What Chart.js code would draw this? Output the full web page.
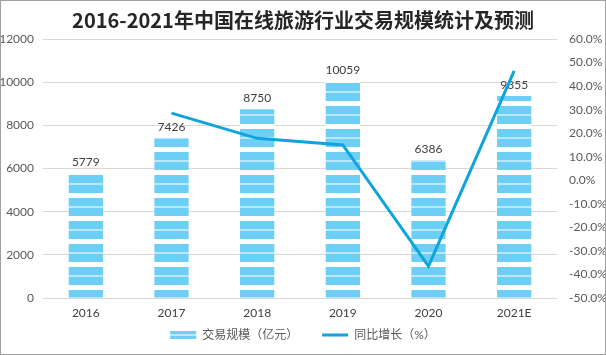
<!DOCTYPE html>
<html><head><meta charset="utf-8">
<script src="https://cdn.jsdelivr.net/npm/chart.js@4.4.0/dist/chart.umd.min.js"></script>
<style>
html,body{margin:0;padding:0;background:#fff;}
#wrap{position:relative;width:606px;height:355px;box-sizing:border-box;border:1px solid #a0a0a0;background:#fff;}
</style></head><body>
<div id="wrap"><canvas id="c"></canvas></div>
<script>
const categories = ['2016', '2017', '2018', '2019', '2020', '2021E'];
const scaleValues = [5779, 7426, 8750, 10059, 6386, 9355];
const growthValues = [null, 28.5, 17.8, 15.0, -36.5, 46.5];
const leftAxis = { min: 0, max: 12000, step: 2000 };
const rightAxis = { min: -50, max: 60, step: 10 };
const seriesNames = ['交易规模（亿元）', '同比增长（%）'];
const titleText = '2016-2021年中国在线旅游行业交易规模统计及预测';

const BLUE = '#6DCFF6', LIGHT = '#B9E8FB', LINE = '#0EA5DC';
const FONT = 'Lato, "Noto Sans CJK SC", sans-serif';

function makeTile(rows) {
  const h = rows.reduce((s, r) => s + r[1], 0);
  const c = document.createElement('canvas'); c.width = 8; c.height = h;
  const x = c.getContext('2d'); let y = 0;
  for (const [col, hh] of rows) { x.fillStyle = col; x.fillRect(0, y, 8, hh); y += hh; }
  return c;
}
const canvas = document.getElementById('c');
const ctx = canvas.getContext('2d');
const barPattern = ctx.createPattern(makeTile([[LIGHT, 2], [BLUE, 8], ['#ffffff', 5], [BLUE, 8]]), 'repeat');
const legendPattern = ctx.createPattern(makeTile([[BLUE, 3], [LIGHT, 2], [BLUE, 3]]), 'repeat');

const LEGEND_PAD = 24, LEGEND_H = 25.6, LEGEND_TEXT_Y = 334;

const helperPlugin = {
  id: 'helper',
  beforeLayout(chart) {
    const lg = chart.legend;
    if (lg && !lg._wrappedFit) {
      const orig = lg.fit.bind(lg);
      lg.fit = function () { orig(); this.height = LEGEND_H; };
      lg._wrappedFit = true;
    }
  },
  afterLayout(chart) {
    const lg = chart.legend;
    if (lg) {
      const wantTop = LEGEND_TEXT_Y - 6 - LEGEND_PAD;
      const dy = wantTop - lg.top;
      lg.top += dy;
      lg.bottom = chart.height;
      lg.height = lg.bottom - lg.top;
      if (lg.legendHitBoxes) lg.legendHitBoxes.forEach(h => { h.top += dy; });
    }
  },
  beforeDraw(chart) {
    const lg = chart.legend;
    if (lg) {
      const top = lg.top + LEGEND_PAD + 6 - 4;
      legendPattern.setTransform(new DOMMatrix([1, 0, 0, 1, 0, top]));
    }
    barPattern.setTransform(new DOMMatrix([1, 0, 0, 1, 0, Math.round(chart.chartArea.bottom)]));
  },
  afterDatasetDraw(chart, args) {
    if (args.index !== 0) return;
    const c = chart.ctx; const meta = args.meta;
    c.save();
    c.font = '12px ' + FONT; c.fillStyle = '#404040';
    c.textAlign = 'center'; c.textBaseline = 'bottom';
    meta.data.forEach((el, i) => {
      c.fillText(String(scaleValues[i]), el.x, el.y - 5);
    });
    c.restore();
  }
};

new Chart(canvas, {
  type: 'bar',
  data: {
    labels: categories,
    datasets: [
      { label: seriesNames[0], data: scaleValues, backgroundColor: barPattern, borderWidth: 0,
        yAxisID: 'y', order: 2, barPercentage: 0.4, categoryPercentage: 1, pointStyle: 'rect' },
      { type: 'line', label: seriesNames[1], data: growthValues, borderColor: LINE, backgroundColor: LINE,
        borderWidth: 3, pointRadius: 0, tension: 0, yAxisID: 'y1', order: 1, pointStyle: 'line' }
    ]
  },
  options: {
    responsive: true, maintainAspectRatio: false, animation: false,
    layout: { padding: { left: 0, right: 0, top: 0, bottom: 0 } },
    plugins: {
      title: { display: true, text: titleText, color: '#262626',
        font: { family: '"Noto Sans CJK SC", sans-serif', size: 20, weight: 'bold' },
        padding: { top: 7, bottom: 7 } },
      legend: { position: 'bottom',
        labels: { usePointStyle: true, pointStyleWidth: 26, boxHeight: 8, padding: LEGEND_PAD,
          color: '#595959', font: { family: FONT, size: 12 },
          sort: (a, b) => a.datasetIndex - b.datasetIndex,
          generateLabels(chart) {
            const items = Chart.defaults.plugins.legend.labels.generateLabels(chart);
            items.forEach(it => { if (it.datasetIndex === 0) { it.fillStyle = legendPattern; it.lineWidth = 0; } });
            return items;
          } } },
      tooltip: { enabled: false }
    },
    scales: {
      x: { grid: { display: false, drawTicks: false }, border: { display: false },
        ticks: { color: '#404040', padding: 8, font: { family: FONT, size: 12 } } },
      y: { position: 'left', min: leftAxis.min, max: leftAxis.max,
        afterFit(s) { s.width = 42; },
        grid: { color: '#D9D9D9', drawTicks: false }, border: { display: false },
        ticks: { stepSize: leftAxis.step, color: '#595959', padding: 9, font: { family: FONT, size: 12 },
          callback: v => String(v) } },
      y1: { position: 'right', min: rightAxis.min, max: rightAxis.max,
        afterFit(s) { s.width = 48; },
        grid: { display: false, drawTicks: false }, border: { display: false },
        ticks: { stepSize: rightAxis.step, autoSkip: false, color: '#595959', padding: 12,
          font: { family: FONT, size: 12 }, callback: v => v.toFixed(1) + '%' } }
    }
  },
  plugins: [helperPlugin]
});
</script>
</body></html>
